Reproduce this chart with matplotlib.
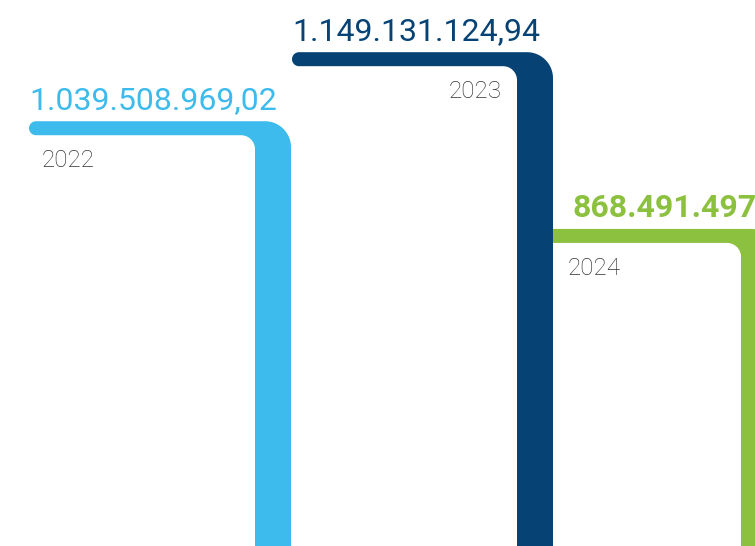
import matplotlib.pyplot as plt
import numpy as np
from matplotlib.patches import Polygon

# Dados
anos = ['2022', '2023', '2024']
valores = np.array([1039508969.02, 1149131124.94, 868491497.00])
rotulos = ['1.039.508.969,02', '1.149.131.124,94', '868.491.497']

# Estilo de cada barra (posicoes em pixels no eixo x)
cores = ['#3CBBEC', '#064374', '#8CC03F']
x_esq = [29, 292, 530]
x_dir = [291, 553, 777]
x_valor = [29, 292, 572]
x_ano = [42, 502, 568]
ha_ano = ['left', 'right', 'left']
pesos = ['normal', 'normal', 'bold']
ordem = [1, 3, 2]

W, H = 755, 546
plt.rcParams['font.family'] = ['Roboto', 'DejaVu Sans']

fig = plt.figure(figsize=(W / 100, H / 100), dpi=100)
ax = fig.add_axes([0, 0, 1, 1])
ax.set_xlim(0, W)
ax.set_ylim(365e6, 1232e6)
ax.axis('off')

# pixels por unidade de valor no eixo y
k = H / (ax.get_ylim()[1] - ax.get_ylim()[0])


def forma(esq, dir_, topo, h=14, w=36, r_ext=26, r_int=14):
    """Linha horizontal + coluna vertical com cantos arredondados."""
    pts = []
    # canto externo
    t = np.linspace(-np.pi / 2, 0, 30)
    cx, cy = dir_ - r_ext, r_ext
    pts += list(zip(cx + r_ext * np.cos(t), cy + r_ext * np.sin(t)))
    # desce ate a base
    fundo = topo * k + 50
    pts += [(dir_, fundo), (dir_ - w, fundo)]
    # canto interno
    t = np.linspace(0, -np.pi / 2, 30)
    cx, cy = dir_ - w - r_int, h + r_int
    pts += list(zip(cx + r_int * np.cos(t), cy + r_int * np.sin(t)))
    # ponta esquerda arredondada
    t = np.linspace(np.pi / 2, 3 * np.pi / 2, 30)
    cx, cy = esq + h / 2, h / 2
    pts += list(zip(cx + h / 2 * np.cos(t), cy + h / 2 * np.sin(t)))
    pts = np.array(pts)
    # converte deslocamento em pixels (para baixo) em valores
    pts[:, 1] = topo - pts[:, 1] / k
    return pts


for i in range(len(anos)):
    p = Polygon(forma(x_esq[i], x_dir[i], valores[i]), closed=True,
                facecolor=cores[i], edgecolor='none', zorder=ordem[i])
    ax.add_patch(p)
    ax.text(x_valor[i], valores[i] + 12 / k, rotulos[i], color=cores[i],
            fontsize=23, fontweight=pesos[i], ha='left', va='baseline', zorder=5)
    ax.text(x_ano[i], valores[i] - 46 / k, anos[i], color='#333333',
            fontsize=17.5, fontweight='light', ha=ha_ano[i], va='baseline', zorder=5)

fig.savefig('out.png', dpi=100)
